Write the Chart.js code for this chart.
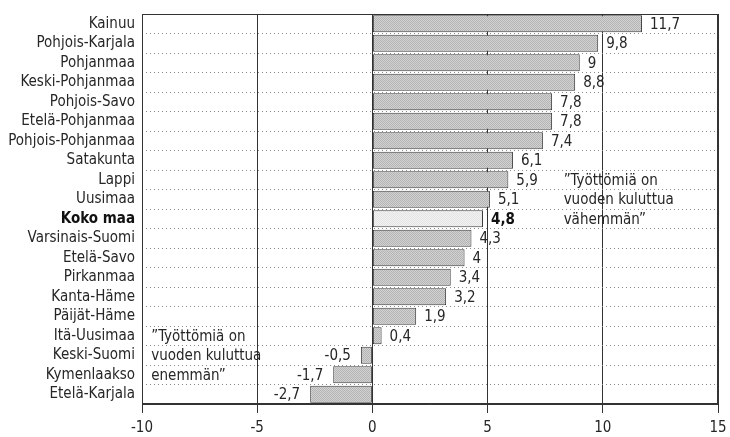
<!DOCTYPE html>
<html>
<head>
<meta charset="utf-8">
<script src="https://cdn.jsdelivr.net/npm/chart.js@4/dist/chart.umd.min.js"></script>
<style>
  body { margin: 0; background: #fff; }
</style>
</head>
<body>
<canvas id="chart" width="730" height="437"></canvas>
<script>
const regions = ['Kainuu', 'Pohjois-Karjala', 'Pohjanmaa', 'Keski-Pohjanmaa', 'Pohjois-Savo',
    'Etelä-Pohjanmaa', 'Pohjois-Pohjanmaa', 'Satakunta', 'Lappi', 'Uusimaa', 'Koko maa',
    'Varsinais-Suomi', 'Etelä-Savo', 'Pirkanmaa', 'Kanta-Häme', 'Päijät-Häme', 'Itä-Uusimaa',
    'Keski-Suomi', 'Kymenlaakso', 'Etelä-Karjala'];
const values = [11.7, 9.8, 9, 8.8, 7.8, 7.8, 7.4, 6.1, 5.9, 5.1, 4.8, 4.3, 4, 3.4, 3.2, 1.9, 0.4, -0.5, -1.7, -2.7];
const xTicks = [-10, -5, 0, 5, 10, 15];
const totalLabel = 'Koko maa';

// notes: text lines, x value, first row
const noteLess = ['”Työttömiä on', 'vuoden kuluttua', 'vähemmän”'];
const noteLessAt = { x: 8.3, row: 8 };
const noteMore = ['”Työttömiä on', 'vuoden kuluttua', 'enemmän”'];
const noteMoreAt = { x: -9.6, row: 16 };

const FONT = "'DejaVu Sans Condensed', 'DejaVu Sans', sans-serif";
const INK = '#262626';

function stipple(light, dark) {
    const c = document.createElement('canvas');
    c.width = 2; c.height = 2;
    const g = c.getContext('2d');
    g.fillStyle = light; g.fillRect(0, 0, 2, 2);
    g.fillStyle = dark; g.fillRect(0, 0, 1, 1); g.fillRect(1, 1, 1, 1);
    return g.createPattern(c, 'repeat');
}
const barFill = stipple('#d2d2d2', '#b4b4b4');
const totalFill = stipple('#f2f2f2', '#e4e4e4');

const decorations = {
    id: 'decorations',
    afterDatasetsDraw(chart) {
        const { ctx, chartArea: a, scales } = chart;
        ctx.save();
        ctx.textBaseline = 'middle';

        // value labels
        chart.getDatasetMeta(0).data.forEach((bar, i) => {
            const v = values[i];
            const bold = regions[i] === totalLabel;
            ctx.font = (bold ? 'bold ' : '') + '15px ' + FONT;
            ctx.fillStyle = bold ? '#111' : INK;
            ctx.textAlign = v < 0 ? 'right' : 'left';
            ctx.fillText(String(v).replace('.', ','), bar.x + (v < 0 ? -10 : 8), bar.y + 1);
        });

        // notes
        ctx.font = '15px ' + FONT;
        ctx.fillStyle = INK;
        ctx.textAlign = 'left';
        [[noteLess, noteLessAt], [noteMore, noteMoreAt]].forEach(([lines, at]) => {
            lines.forEach((t, k) => {
                ctx.fillText(t, scales.x.getPixelForValue(at.x), scales.y.getPixelForValue(at.row + k) + 1);
            });
        });

        // frame
        ctx.strokeStyle = '#333';
        ctx.lineWidth = 1;
        ctx.strokeRect(Math.round(a.left) + 0.5, Math.round(a.top) + 0.5,
            Math.round(a.right - a.left) - 1, Math.round(a.bottom - a.top) - 1);
        ctx.restore();
    }
};

new Chart(document.getElementById('chart'), {
    type: 'bar',
    data: {
        labels: regions,
        datasets: [{
            data: values,
            backgroundColor: regions.map(r => r === totalLabel ? totalFill : barFill),
            borderColor: '#3a3a3a',
            borderWidth: 1,
            borderSkipped: false,
            barPercentage: 0.87,
            categoryPercentage: 1,
        }]
    },
    options: {
        indexAxis: 'y',
        responsive: false,
        animation: false,
        layout: { padding: { left: 0, right: 12, top: 14, bottom: 0 } },
        plugins: { legend: { display: false }, tooltip: { enabled: false } },
        scales: {
            x: {
                min: -10,
                max: 15,
                afterBuildTicks: s => { s.ticks = xTicks.map(v => ({ value: v })); },
                afterFit: s => { s.height = 33; s.paddingLeft = 0; s.paddingRight = 0; },
                ticks: {
                    padding: 6,
                    color: INK,
                    font: { family: FONT, size: 15 },
                    callback: v => String(v),
                },
                grid: { color: '#333', lineWidth: 1, tickLength: 9, tickColor: '#333' },
                border: { color: '#333', width: 1 },
            },
            y: {
                afterFit: s => { s.width = 142; s.paddingTop = 0; s.paddingBottom = 0; },
                ticks: {
                    autoSkip: false,
                    padding: 7,
                    color: ctx => ctx.index === regions.indexOf(totalLabel) ? '#111' : INK,
                    font: ctx => ({
                        family: FONT,
                        size: 15,
                        weight: ctx.index === regions.indexOf(totalLabel) ? 'bold' : 'normal',
                    }),
                },
                grid: { color: '#8a8a8a', lineWidth: 1, drawTicks: false, offset: true },
                border: { display: false, dash: [1, 3] },
            }
        }
    },
    plugins: [decorations]
});
</script>
</body>
</html>
